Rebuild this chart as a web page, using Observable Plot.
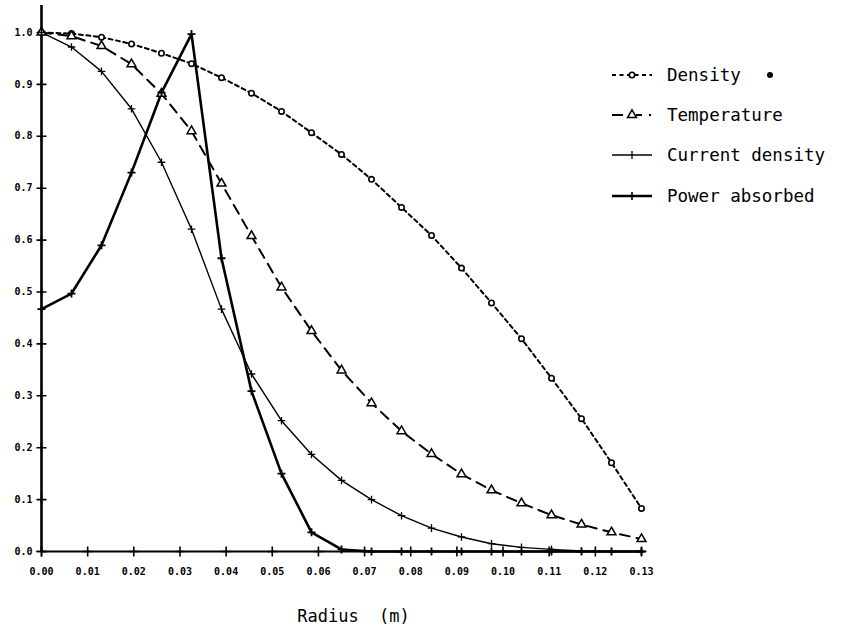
<!DOCTYPE html>
<html>
<head>
<meta charset="utf-8">
<script src="https://cdn.jsdelivr.net/npm/d3@7"></script>
<script src="https://cdn.jsdelivr.net/npm/@observablehq/plot@0.6"></script>
<style>
  html, body { margin: 0; padding: 0; background: #fff; }
  #wrap { position: relative; width: 841px; height: 630px; }
  #legend { position: absolute; left: 0; top: 0; pointer-events: none; }
</style>
</head>
<body>
<div id="wrap"></div>
<script>
// ---- data ----
const radius = [0, 0.0065, 0.013, 0.0195, 0.026, 0.0325, 0.039, 0.0455, 0.052, 0.0585, 0.065,
                0.0715, 0.078, 0.0845, 0.091, 0.0975, 0.104, 0.1105, 0.117, 0.1235, 0.13];
const density = [1.0, 0.998, 0.991, 0.978, 0.96, 0.94, 0.913, 0.883, 0.848, 0.807, 0.765,
                 0.717, 0.663, 0.609, 0.546, 0.479, 0.41, 0.334, 0.256, 0.171, 0.083];
const temperature = [1.0, 0.993, 0.974, 0.939, 0.882, 0.81, 0.709, 0.608, 0.509, 0.425, 0.349,
                     0.286, 0.232, 0.188, 0.149, 0.118, 0.093, 0.07, 0.052, 0.037, 0.024];
const currentDensity = [1.0, 0.972, 0.925, 0.853, 0.75, 0.621, 0.467, 0.342, 0.252, 0.187, 0.137,
                        0.1, 0.069, 0.045, 0.028, 0.015, 0.008, 0.004, 0.001, 0, 0];
const powerAbsorbed = [0.467, 0.497, 0.59, 0.73, 0.884, 0.997, 0.565, 0.309, 0.15, 0.037, 0.004,
                       0, 0, 0, 0, 0, 0, 0, 0, 0, 0];
const xTicks = [0, 0.01, 0.02, 0.03, 0.04, 0.05, 0.06, 0.07, 0.08, 0.09, 0.10, 0.11, 0.12, 0.13];
const yTicks = [0, 0.1, 0.2, 0.3, 0.4, 0.5, 0.6, 0.7, 0.8, 0.9, 1.0];
const xLabels = ["0.00","0.01","0.02","0.03","0.04","0.05","0.06","0.07","0.08","0.09","0.10","0.11","0.12","0.13"];
const yLabels = ["0.0","0.1","0.2","0.3","0.4","0.5","0.6","0.7","0.8","0.9","1.0"];
const seriesNames = ["Density", "Temperature", "Current density", "Power absorbed"];
const axisTitle = "Radius\u00a0\u00a0(m)";
const xDomain = [0, 0.13];
const yDomain = [0, 1.052];

const rows = radius.map((r, i) => ({
  r, density: density[i], temperature: temperature[i],
  current: currentDensity[i], power: powerAbsorbed[i]
}));

// plus-shaped symbol: arms of length r
const plusSym = {
  draw(ctx, size) {
    const r = Math.sqrt(size / Math.PI);
    ctx.moveTo(-r, 0); ctx.lineTo(r, 0);
    ctx.moveTo(0, -r); ctx.lineTo(0, r);
  }
};

const mono = "DejaVu Sans Mono, monospace";

const chart = Plot.plot({
  width: 841,
  height: 630,
  marginLeft: 41,
  marginRight: 200,
  marginTop: 5,
  marginBottom: 79,
  style: { fontFamily: mono, background: "white", overflow: "visible" },
  x: { domain: xDomain },
  y: { domain: yDomain },
  marks: [
    // axes lines
    Plot.ruleX([xDomain[0]], { y1: yDomain[0], y2: yDomain[1], stroke: "black", strokeWidth: 2.6 }),
    Plot.ruleY([yDomain[0]], { x1: xDomain[0], x2: xDomain[1], stroke: "black", strokeWidth: 2 }),
    // crossing ticks
    Plot.dot(yTicks, { x: () => 0, y: d => d, symbol: plusSym, r: 5, fill: "none", stroke: "black", strokeWidth: 1.6 }),
    Plot.dot(xTicks, { x: d => d, y: () => 0, symbol: plusSym, r: 5, fill: "none", stroke: "black", strokeWidth: 1.6 }),
    // tick labels
    Plot.axisY({ ticks: yTicks, tickFormat: (d, i) => yLabels[i], tickSize: 0, tickPadding: 9,
                 fontWeight: "bold", fontSize: 10, label: null }),
    Plot.axisX({ ticks: xTicks, tickFormat: (d, i) => xLabels[i], tickSize: 0, tickPadding: 16,
                 fontWeight: "bold", fontSize: 10, label: null }),
    // series lines
    Plot.line(rows, { x: "r", y: "density", stroke: "black", strokeWidth: 2, strokeDasharray: "4,3.5" }),
    Plot.line(rows, { x: "r", y: "temperature", stroke: "black", strokeWidth: 2, strokeDasharray: "10,7" }),
    Plot.line(rows, { x: "r", y: "current", stroke: "black", strokeWidth: 1.4 }),
    Plot.line(rows, { x: "r", y: "power", stroke: "black", strokeWidth: 2.6 }),
    // markers
    Plot.dot(rows, { x: "r", y: "density", r: 2.7, fill: "white", stroke: "black", strokeWidth: 1.6 }),
    Plot.dot(rows, { x: "r", y: "temperature", symbol: "triangle", r: 3.3, fill: "white", stroke: "black", strokeWidth: 1.5 }),
    Plot.dot(rows, { x: "r", y: "current", symbol: plusSym, r: 3.8, fill: "none", stroke: "black", strokeWidth: 1.3 }),
    Plot.dot(rows, { x: "r", y: "power", symbol: plusSym, r: 4, fill: "none", stroke: "black", strokeWidth: 1.8 }),
    // axis title
    Plot.text([axisTitle], { frameAnchor: "bottom", text: d => d, dy: 70, dx: 12,
                             fontSize: 17, fontFamily: mono, fill: "black" })
  ]
});

const wrap = document.getElementById("wrap");
wrap.appendChild(chart);

// ---- legend (overlay) ----
const lg = d3.select(wrap).append("svg")
  .attr("id", "legend").attr("width", 841).attr("height", 630);
const rowY = [75, 115, 155, 196];
const x0 = 612, x1 = 652, xm = 632, tx = 667;

// Density
lg.append("line").attr("x1", x0).attr("x2", x1).attr("y1", rowY[0]).attr("y2", rowY[0])
  .attr("stroke", "black").attr("stroke-width", 2).attr("stroke-dasharray", "4,3.5");
lg.append("circle").attr("cx", xm).attr("cy", rowY[0]).attr("r", 2.7)
  .attr("fill", "white").attr("stroke", "black").attr("stroke-width", 1.6);
lg.append("circle").attr("cx", 770).attr("cy", rowY[0]).attr("r", 3)
  .attr("fill", "black");
// Temperature
lg.append("line").attr("x1", x0).attr("x2", 623).attr("y1", rowY[1]).attr("y2", rowY[1])
  .attr("stroke", "black").attr("stroke-width", 2);
lg.append("line").attr("x1", 636).attr("x2", 642).attr("y1", rowY[1]).attr("y2", rowY[1])
  .attr("stroke", "black").attr("stroke-width", 2);
lg.append("circle").attr("cx", 650).attr("cy", rowY[1]).attr("r", 1.2).attr("fill", "black");
lg.append("path").attr("d", d3.symbol(d3.symbolTriangle, Math.PI * 3.3 * 3.3)())
  .attr("transform", `translate(${xm},${rowY[1]})`)
  .attr("fill", "white").attr("stroke", "black").attr("stroke-width", 1.5);
// Current density
lg.append("line").attr("x1", x0).attr("x2", x1).attr("y1", rowY[2]).attr("y2", rowY[2])
  .attr("stroke", "black").attr("stroke-width", 1.6);
lg.append("path").attr("d", `M${xm},${rowY[2]-4}V${rowY[2]+4}`)
  .attr("stroke", "black").attr("stroke-width", 1.3);
// Power absorbed
lg.append("line").attr("x1", x0).attr("x2", x1).attr("y1", rowY[3]).attr("y2", rowY[3])
  .attr("stroke", "black").attr("stroke-width", 2.6);
lg.append("path").attr("d", `M${xm},${rowY[3]-4}V${rowY[3]+4}`)
  .attr("stroke", "black").attr("stroke-width", 1.6);

lg.selectAll("text.lab").data(seriesNames).join("text")
  .attr("class", "lab")
  .attr("x", tx).attr("y", (d, i) => rowY[i])
  .attr("dy", "0.35em")
  .attr("font-family", mono).attr("font-size", 17.5)
  .attr("fill", "black")
  .text(d => d);
</script>
</body>
</html>
